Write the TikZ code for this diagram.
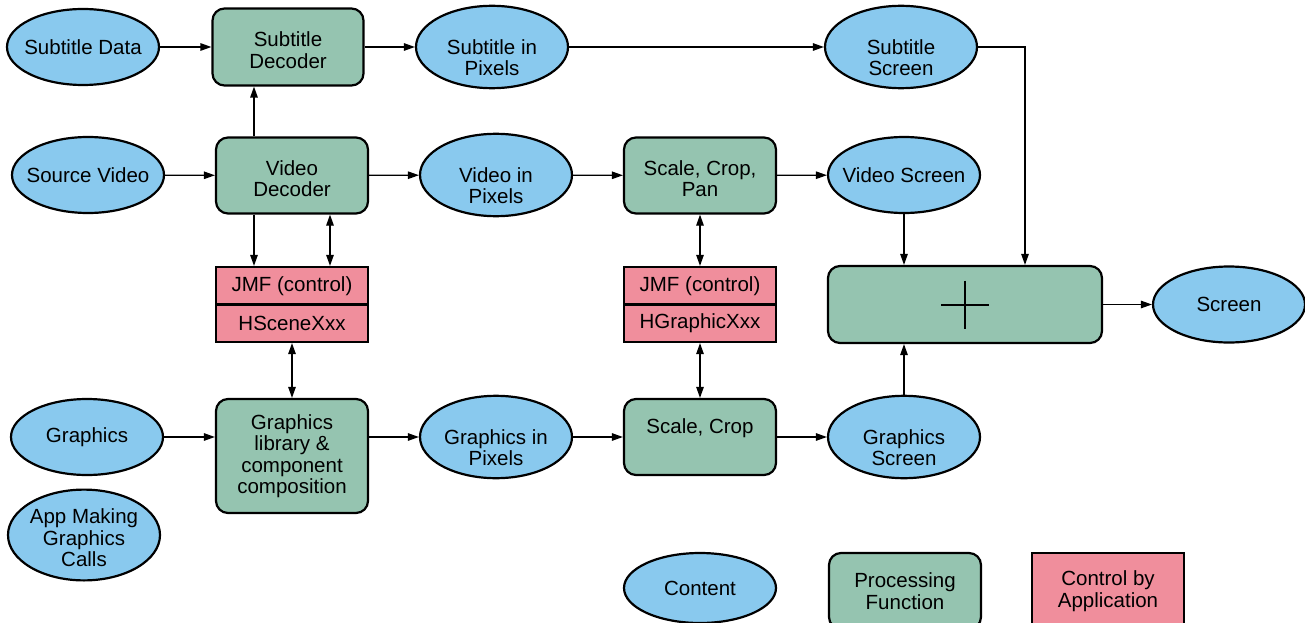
\documentclass[tikz,border=0pt]{standalone}
\usepackage{fontspec}
\setmainfont{Liberation Sans}
\usetikzlibrary{arrows.meta,shapes.geometric}

\definecolor{contentblue}{RGB}{137,201,238}
\definecolor{procgreen}{RGB}{149,196,176}
\definecolor{ctrlpink}{RGB}{240,142,156}

% an empty leading line, so that a two-line label starts at the node's middle
\newcommand{\dropline}{\strut\\}
% a taller first line, which lowers a label by a few points
\newcommand{\tallfirst}{\rule{0pt}{21pt}}

\tikzset{
  content/.style={ellipse, draw=black, line width=2.2pt, fill=contentblue,
    minimum width=152pt, minimum height=76pt, inner xsep=-12pt, inner ysep=0pt,
    align=center},
  procbox/.style={rectangle, rounded corners=12pt, draw=black, line width=2.2pt,
    fill=procgreen, minimum width=152pt, minimum height=76pt, inner sep=0pt,
    align=center},
  ctrlbox/.style={rectangle, draw=black, line width=2.2pt, fill=ctrlpink,
    minimum width=152pt, minimum height=37.5pt, inner sep=0pt, align=center},
  flow/.style={line width=1.2pt, -{Triangle[length=11pt,width=7.5pt]}},
  twoway/.style={line width=1.2pt, {Triangle[length=11pt,width=7.5pt]}-{Triangle[length=11pt,width=7.5pt]}}
}

\begin{document}
\begin{tikzpicture}[x=1pt, y=-1pt, font=\fontsize{20.5pt}{21.5pt}\selectfont]
\path[use as bounding box, clip] (0,0) rectangle (1305,623);

% tap columns for the vertical connectors
\coordinate (tapL) at (254,0);
\coordinate (tapR) at (330,0);
\coordinate (tapM) at (292,0);
\coordinate (tapS) at (700,0);
\coordinate (tapV) at (904,0);
\coordinate (tapT) at (1025,0);

% subtitle row
\node[content] (sdata) at (83,47)  {Subtitle Data};
\node[procbox, minimum width=151pt, minimum height=77pt] (subdec) at (288,47) {\tallfirst Subtitle\\Decoder};
\node[content] (sip)   at (492,47) {\dropline Subtitle in\\Pixels};
\node[content] (sscr)  at (901,47) {\dropline Subtitle\\Screen};

% video row
\node[content] (srcvid) at (88,175)  {Source Video};
\node[procbox] (viddec) at (292,175.5) {\tallfirst Video\\Decoder};
\node[content] (vip)    at (496,175) {\dropline Video in\\Pixels};
\node[procbox] (scp)    at (700,175.5) {\tallfirst Scale, Crop,\\Pan};
\node[content] (vscr)   at (904,175) {Video Screen};

% application control blocks
\node[ctrlbox] (jmfA) at (292,285.75) {JMF (control)};
\node[ctrlbox] (hsc)  at (292,323.25) {HSceneXxx};
\node[ctrlbox] (jmfB) at (700,285.75) {JMF (control)};
\node[ctrlbox] (hgr)  at (700,323.25) {HGraphicXxx};

% compositor and output
\node[procbox, minimum width=274pt, minimum height=77pt] (mix) at (965,304.5) {};
\draw[line width=2pt] (mix.center) ++(-24,0) -- ++(48,0);
\draw[line width=2pt] (mix.center) ++(0,-24) -- ++(0,48);
\node[content] (screen) at (1229,304.5) {Screen};

% graphics row
\node[content] (gfx)  at (87,437)  {Graphics};
\node[procbox, minimum height=114pt] (glib) at (292,456) {Graphics\\library \&\\component\\composition};
\node[content] (gip)  at (496,437) {\dropline Graphics in\\Pixels};
\node[procbox] (scb)  at (700,437) {Scale, Crop\\\mbox{}};
\node[content] (gscr) at (904,437) {\dropline Graphics\\Screen};

\node[content] (app) at (84,535) {\tallfirst App Making\\Graphics\\Calls};

% legend
\node[content, minimum height=70pt] (lgcontent) at (700,588) {Content};
\node[procbox] (lgproc) at (905,591) {Processing\\Function};
\node[ctrlbox, minimum height=76pt] (lgctrl) at (1108,591) {Control by\\Application};

% subtitle connectors
\draw[flow] (sdata) -- (subdec);
\draw[flow] (subdec) -- (sip);
\draw[flow] (sip) -- (sscr);
\draw[flow] (sscr.east) -| (tapT |- mix.north);

% video connectors
\draw[flow] (srcvid) -- (viddec);
\draw[flow] (tapL |- viddec.north) -- (tapL |- subdec.south);
\draw[flow] (viddec) -- (vip);
\draw[flow] (vip) -- (scp);
\draw[flow] (scp) -- (vscr);
\draw[flow] (vscr.south) -- (tapV |- mix.north);
\draw[flow] (tapL |- viddec.south) -- (tapL |- jmfA.north);
\draw[twoway] (tapR |- viddec.south) -- (tapR |- jmfA.north);
\draw[twoway] (tapS |- scp.south) -- (tapS |- jmfB.north);

% graphics connectors
\draw[twoway] (tapM |- hsc.south) -- (tapM |- glib.north);
\draw[twoway] (tapS |- hgr.south) -- (tapS |- scb.north);
\draw[flow] (gfx) -- (gfx -| glib.west);
\draw[flow] (gfx -| glib.east) -- (gip);
\draw[flow] (gip) -- (scb);
\draw[flow] (scb) -- (gscr);
\draw[flow] (gscr.north) -- (tapV |- mix.south);

% output
\draw[flow] (mix) -- (screen);
\end{tikzpicture}
\end{document}
